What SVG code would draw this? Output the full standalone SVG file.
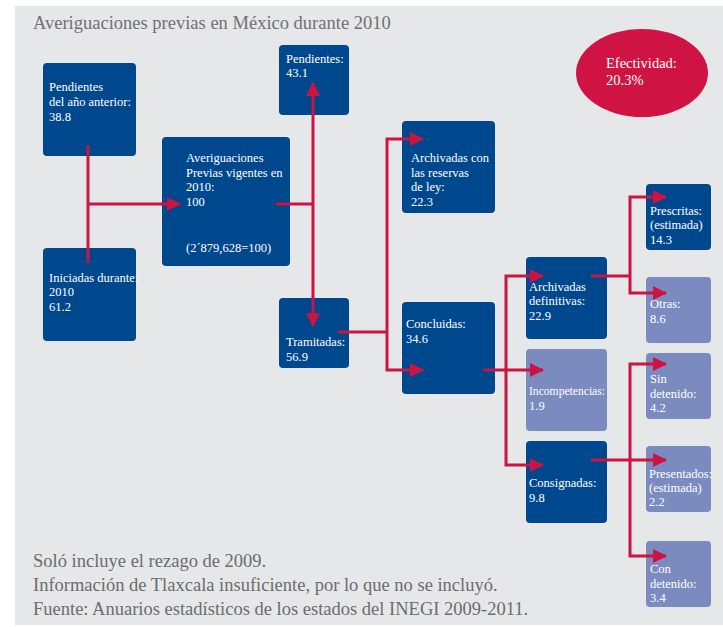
<svg xmlns="http://www.w3.org/2000/svg" width="723" height="627" viewBox="0 0 723 627">
<defs>
<style>
.bg{fill:#e6e7e9}
.dk{fill:#00488e}
.lt{fill:#7b8bbf}
.t{font-family:"Liberation Serif","Times New Roman",serif;font-size:12.5px;fill:#ffffff}
.title{font-family:"Liberation Serif","Times New Roman",serif;font-size:18.5px;fill:#707174}
.note{font-family:"Liberation Serif","Times New Roman",serif;font-size:18.5px;fill:#6b6c6f}
.ef{font-family:"Liberation Serif","Times New Roman",serif;font-size:14.5px;fill:#ffffff}
.c{fill:none;stroke:#cc1443;stroke-width:3;stroke-linejoin:miter}
.a{marker-end:url(#arr)}
</style>
<marker id="arr" viewBox="0 0 14 14" markerWidth="14" markerHeight="14" refX="13" refY="7" orient="auto" markerUnits="userSpaceOnUse">
<path d="M0,0 L14,7 L0,14 z" fill="#cc1443"/>
</marker>
</defs>
<rect class="bg" x="15" y="6" width="708" height="619"/>
<text class="title" x="33" y="29">Averiguaciones previas en México durante 2010</text>

<g id="efectividad">
<ellipse cx="642" cy="73" rx="66" ry="44" fill="#cf1444"/>
<text class="ef" x="606" y="68">Efectividad:</text>
<text class="ef" x="606" y="85">20.3%</text>
</g>

<g id="pendientes-anterior">
<rect class="dk" x="43" y="63" width="93" height="93" rx="4"/>
<text class="t" x="49" y="91">Pendientes</text>
<text class="t" x="49" y="106">del año anterior:</text>
<text class="t" x="49" y="121">38.8</text>
</g>
<g id="iniciadas">
<rect class="dk" x="43" y="248" width="93" height="93" rx="4"/>
<text class="t" x="49" y="282">Iniciadas durante:</text>
<text class="t" x="49" y="296">2010</text>
<text class="t" x="49" y="311">61.2</text>
</g>
<g id="vigentes">
<rect class="dk" x="162" y="137" width="128" height="129" rx="4"/>
<text class="t" x="186" y="162">Averiguaciones</text>
<text class="t" x="186" y="177">Previas vigentes en</text>
<text class="t" x="186" y="191">2010:</text>
<text class="t" x="186" y="206">100</text>
<text class="t" x="186" y="252">(2´879,628=100)</text>
</g>
<g id="pendientes">
<rect class="dk" x="279" y="45" width="70" height="70" rx="4"/>
<text class="t" x="286" y="63">Pendientes:</text>
<text class="t" x="286" y="77">43.1</text>
</g>
<g id="tramitadas">
<rect class="dk" x="279" y="298" width="70" height="70" rx="4"/>
<text class="t" x="286" y="346">Tramitadas:</text>
<text class="t" x="286" y="361">56.9</text>
</g>
<g id="archivadas-reserva">
<rect class="dk" x="402" y="121" width="93" height="92" rx="4"/>
<text class="t" x="411" y="162">Archivadas con</text>
<text class="t" x="411" y="177">las reservas</text>
<text class="t" x="411" y="191">de ley:</text>
<text class="t" x="411" y="206">22.3</text>
</g>
<g id="concluidas">
<rect class="dk" x="402" y="302" width="93" height="92" rx="4"/>
<text class="t" x="406" y="328">Concluidas:</text>
<text class="t" x="406" y="343">34.6</text>
</g>
<g id="archivadas-definitivas">
<rect class="dk" x="526" y="257" width="81" height="82" rx="4"/>
<text class="t" x="529" y="291">Archivadas</text>
<text class="t" x="529" y="305">definitivas:</text>
<text class="t" x="529" y="320">22.9</text>
</g>
<g id="incompetencias">
<rect class="lt" x="526" y="349" width="81" height="82" rx="4"/>
<text class="t" x="529" y="395" textLength="76" lengthAdjust="spacingAndGlyphs">Incompetencias:</text>
<text class="t" x="529" y="410">1.9</text>
</g>
<g id="consignadas">
<rect class="dk" x="526" y="441" width="81" height="82" rx="4"/>
<text class="t" x="529" y="487">Consignadas:</text>
<text class="t" x="529" y="502">9.8</text>
</g>
<g id="prescritas">
<rect class="dk" x="646" y="184" width="65" height="66" rx="4"/>
<text class="t" x="650" y="215">Prescritas:</text>
<text class="t" x="650" y="229">(estimada)</text>
<text class="t" x="650" y="244">14.3</text>
</g>
<g id="otras">
<rect class="lt" x="646" y="277" width="65" height="66" rx="4"/>
<text class="t" x="650" y="308">Otras:</text>
<text class="t" x="650" y="323">8.6</text>
</g>
<g id="sin-detenido">
<rect class="lt" x="646" y="353" width="65" height="66" rx="4"/>
<text class="t" x="650" y="383">Sin</text>
<text class="t" x="650" y="398">detenido:</text>
<text class="t" x="650" y="412">4.2</text>
</g>
<g id="presentados">
<rect class="lt" x="646" y="446" width="65" height="66" rx="4"/>
<text class="t" x="649" y="478">Presentados:</text>
<text class="t" x="649" y="492">(estimada)</text>
<text class="t" x="649" y="506">2.2</text>
</g>
<g id="con-detenido">
<rect class="lt" x="646" y="541" width="65" height="66" rx="4"/>
<text class="t" x="650" y="573">Con</text>
<text class="t" x="650" y="588">detenido:</text>
<text class="t" x="650" y="602">3.4</text>
</g>

<g id="connectors">
<path class="c" d="M88,145 V263"/>
<path class="c a" d="M88,204 H180"/>
<path class="c" d="M276,204 H313"/>
<path class="c a" d="M313,204 V83"/>
<path class="c a" d="M313,204 V326"/>
<path class="c" d="M338,332 H387"/>
<path class="c a" d="M387,332 V139 H423"/>
<path class="c a" d="M387,332 V370 H423"/>
<path class="c" d="M483,370 H506"/>
<path class="c a" d="M506,370 V276 H543"/>
<path class="c a" d="M506,370 H543"/>
<path class="c a" d="M506,370 V465 H543"/>
<path class="c" d="M591,276 H630"/>
<path class="c a" d="M630,276 V197 H666"/>
<path class="c a" d="M630,276 V293 H666"/>
<path class="c a" d="M591,460 H666"/>
<path class="c a" d="M630,460 V364 H666"/>
<path class="c a" d="M630,460 V556 H666"/>
</g>

<text class="note" x="33" y="567">Soló incluye el rezago de 2009.</text>
<text class="note" x="33" y="591">Información de Tlaxcala insuficiente, por lo que no se incluyó.</text>
<text class="note" x="33" y="615">Fuente: Anuarios estadísticos de los estados del INEGI 2009-2011.</text>
</svg>
